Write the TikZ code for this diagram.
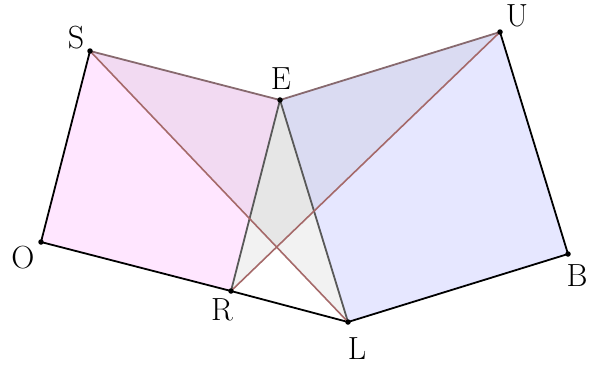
\documentclass[tikz,border=0pt]{standalone}
\usepackage{fontspec}
\begin{document}
\begin{tikzpicture}[x=1pt,y=-1pt,
  pt/.style={circle,fill=black,inner sep=0pt,minimum size=5.5pt},
  lbl/.style={font=\fontsize{32}{38}\selectfont,inner sep=0pt},
  edgeK/.style={draw=black,line width=1.8pt},
  edgeG/.style={draw=black!65,line width=1.8pt},
  edgeB/.style={draw=triB,line width=1.6pt},
  edgeT/.style={draw=triT,line width=1.8pt}]
\definecolor{pinkF}{RGB}{255,230,255}
\definecolor{blueF}{RGB}{230,231,255}
\definecolor{triB}{RGB}{165,105,105}
\definecolor{triT}{RGB}{135,105,110}
\useasboundingbox (0,0) rectangle (600,365);
\coordinate (S) at (90,51);
\coordinate (E) at (280,100);
\coordinate (U) at (500,32);
\coordinate (O) at (41,242);
\coordinate (R) at (231,291);
\coordinate (L) at (348,322);
\coordinate (B) at (568,254);
% squares
\fill[pinkF] (O) -- (S) -- (E) -- (R) -- cycle;
\fill[blueF] (E) -- (U) -- (B) -- (L) -- cycle;
% triangles overlay
\fill[black,opacity=0.05] (S) -- (E) -- (L) -- cycle;
\fill[black,opacity=0.05] (U) -- (E) -- (R) -- cycle;
% edges
\draw[edgeK] (S) -- (O) -- (R) -- (L) -- (B) -- (U);
\draw[edgeG] (R) -- (E) -- (L);
\draw[edgeT] (S) -- (E) -- (U);
\draw[edgeB] (S) -- (L);
\draw[edgeB] (U) -- (R);
% points
\foreach \p in {S,E,U,O,R,L,B} \node[pt] (d\p) at (\p) {};
% labels
\node[lbl] (lS) at (76,38) {S};
\node[lbl] (lE) at (281,79) {E};
\node[lbl] (lU) at (517,16) {U};
\node[lbl] (lO) at (23,258) {O};
\node[lbl] (lR) at (222,310) {R};
\node[lbl] (lL) at (357,349) {L};
\node[lbl] (lB) at (577,276) {B};
\end{tikzpicture}
\end{document}
